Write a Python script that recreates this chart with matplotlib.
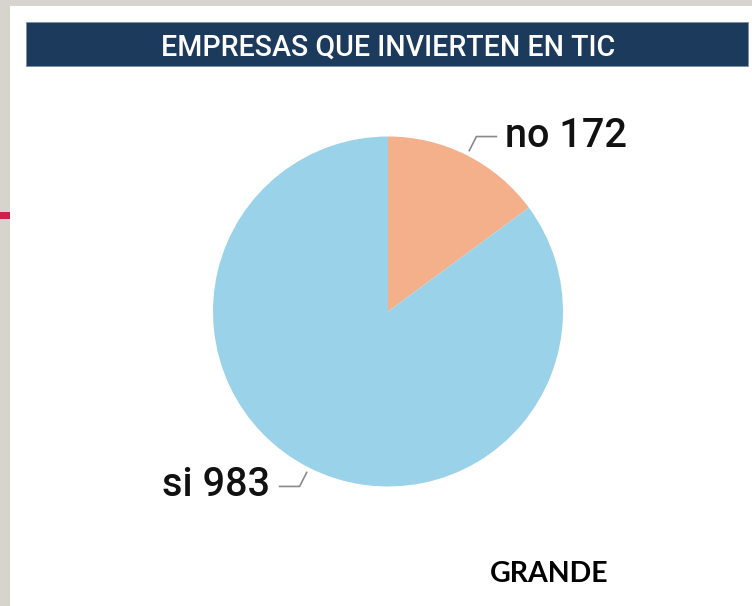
import numpy as np
import matplotlib
matplotlib.use("Agg")
import matplotlib.pyplot as plt
from matplotlib.patches import Rectangle

title = "EMPRESAS QUE INVIERTEN EN TIC"
labels = ["no", "si"]
values = [172, 983]
colors = ["#f4b08b", "#9ad3e9"]
footer = "GRANDE"

W, H = 752, 606
fig = plt.figure(figsize=(W / 100, H / 100), dpi=100)
fig.patch.set_facecolor("#d7d4d0")
ax = fig.add_axes([0, 0, 1, 1])
ax.set_xlim(0, W)
ax.set_ylim(0, H)
ax.axis("off")

def Y(y):
    return H - y

# white panel
ax.add_patch(Rectangle((10, 0), W - 10, H - 6, facecolor="white", edgecolor="none", zorder=0))
# red accent
ax.add_patch(Rectangle((0, Y(219)), 10, 7, facecolor="#c8234a", edgecolor="none", zorder=1))
# title bar
ax.add_patch(Rectangle((26, Y(66)), 722, 44, facecolor="#1b3a5c", edgecolor="#7f8fa0", lw=0.6, zorder=1))
ax.text(388, Y(47.5), title, color="white", fontsize=20.6, ha="center", va="center",
        fontweight="medium",
        family=["Roboto", "Liberation Sans", "DejaVu Sans"], zorder=2)

cx, cy, r = 388, Y(311.5), 175
wedges, _ = ax.pie(values, colors=colors, startangle=90, counterclock=False,
                   center=(cx, cy), radius=r, frame=True,
                   wedgeprops=dict(linewidth=0))
ax.set_xlim(0, W)
ax.set_ylim(0, H)
ax.axis("off")

lab_font = ["Roboto", "Liberation Sans", "DejaVu Sans"]
for w, lab, v in zip(wedges, labels, values):
    ang = np.deg2rad((w.theta1 + w.theta2) / 2)
    x0 = cx + r * 1.03 * np.cos(ang)
    y0 = cy + r * 1.03 * np.sin(ang)
    x1 = cx + r * 1.12 * np.cos(ang)
    y1 = cy + r * 1.12 * np.sin(ang)
    side = 1 if np.cos(ang) > 0 else -1
    x2 = x1 + side * 20
    ax.plot([x0, x1, x2], [y0, y1, y1], color="#8a8a8a", lw=1.2, zorder=3)
    ax.text(x2 + side * 9, y1 + 1, f"{lab} {v}", fontsize=28.5, fontweight="medium",
            ha="left" if side > 0 else "right",
            va="center", family=lab_font, color="#111111", zorder=3)

ax.text(549, Y(574), footer, fontsize=20.5, fontweight="bold", ha="center", va="center",
        family=["Lato", "DejaVu Sans"], color="black")

fig.savefig("out.png", dpi=100, facecolor=fig.get_facecolor())
